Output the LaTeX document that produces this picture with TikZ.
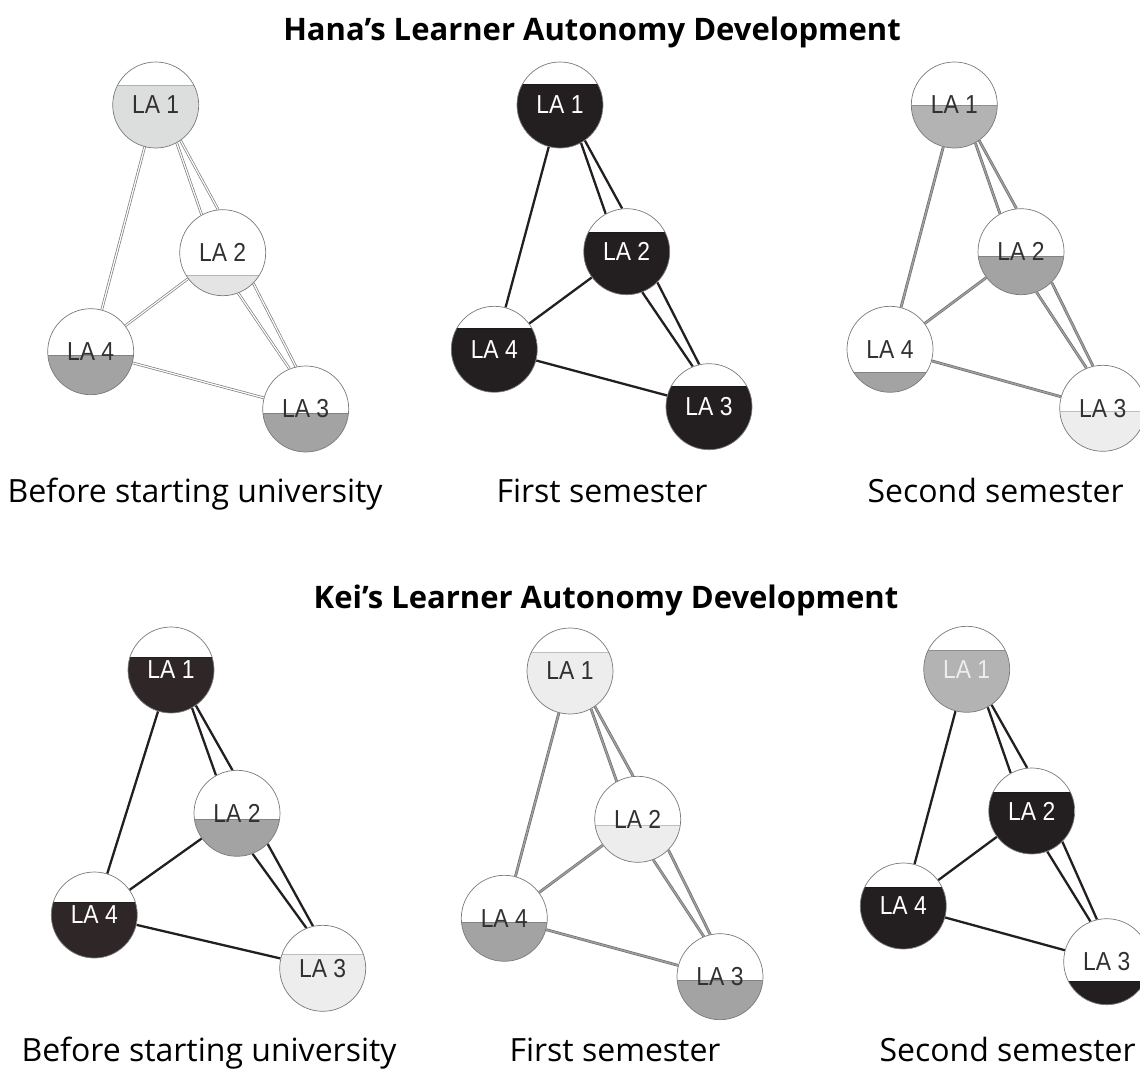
\documentclass[tikz,border=0pt]{standalone}
\usepackage{fontspec}
\setmainfont{Open Sans}
\newfontfamily\lafamily[FakeStretch=0.88]{Liberation Sans}
\usetikzlibrary{backgrounds}
\definecolor{circ}{HTML}{7A7A7A}
\definecolor{dk}{HTML}{231F20}
\definecolor{dkb}{HTML}{2F2727}
\definecolor{gA}{HTML}{A3A3A3}
\definecolor{gB}{HTML}{B3B3B3}
\definecolor{gC}{HTML}{DCDDDD}
\definecolor{gD}{HTML}{E4E4E4}
\definecolor{gE}{HTML}{EDEDED}
\definecolor{txt}{HTML}{333031}
\definecolor{hollowc}{HTML}{7C7C7C}
\definecolor{grayc}{HTML}{6E6E6E}
\definecolor{grayin}{HTML}{A0A0A0}
\tikzset{
  la/.style={circle, draw=circ, line width=0.7pt, minimum size=86pt, inner sep=0pt,
    fill=white, text=txt, font={\lafamily\fontsize{26}{26}\selectfont}},
  wt/.style={text=white},
  part/.style 2 args={path picture={
    \fill[#2] (path picture bounding box.south west) rectangle ([yshift=#1pt]path picture bounding box.east);
    \draw[#2!80!black, line width=0.5pt] ([yshift=#1pt]path picture bounding box.west) -- ([yshift=#1pt]path picture bounding box.east);}},
  hollow/.style={draw=hollowc, double=white, line width=0.7pt, double distance=1.2pt},
  darkl/.style={draw=dk, line width=2.3pt},
  grayl/.style={draw=grayc, double=grayin, line width=0.7pt, double distance=1.4pt},
  ttl/.style={font={\bfseries\fontsize{31}{36}\selectfont}, anchor=base, text=black},
  captxt/.style={font={\fontsize{32}{38}\selectfont}, anchor=base west, text=black},
}
\newcommand\laedges[2]{%
  \begin{scope}[on background layer]
    \draw[#2] (#1-1.-61) -- (#1-2.119);
    \draw[#2] (#1-1.-55) -- (#1-2.96);
    \draw[#2] (#1-2.-69) -- (#1-3.112);
    \draw[#2] (#1-2.-45) -- (#1-3.103);
    \draw[#2] (#1-1) -- (#1-4);
    \draw[#2] (#1-2) -- (#1-4);
    \draw[#2] (#1-4) -- (#1-3);
  \end{scope}}
\begin{document}
\begin{tikzpicture}[x=1pt, y=-1pt]
\useasboundingbox (0,0) rectangle (1140,1070);

\node[ttl] (t1) at (592,41) {Hana’s Learner Autonomy Development};
\node[ttl] (t2) at (606,608) {Kei’s Learner Autonomy Development};

% Panel 1
\node[la, part={20}{gC}] (p1-1) at (155.7,105) {LA 1};
\node[la, part={-23}{gD}] (p1-2) at (222.7,252.7) {LA 2};
\node[la, part={-4}{gA}] (p1-3) at (305.7,409) {LA 3};
\node[la, part={-4}{gA}] (p1-4) at (90.7,351.7) {LA 4};
\laedges{p1}{hollow}

% Panel 2
\node[la, wt, part={21}{dk}] (p2-1) at (560,105) {LA 1};
\node[la, wt, part={19}{dk}] (p2-2) at (626.7,251.7) {LA 2};
\node[la, wt, part={20}{dk}] (p2-3) at (709,406.7) {LA 3};
\node[la, wt, part={21}{dk}] (p2-4) at (494.3,349.3) {LA 4};
\laedges{p2}{darkl}

% Panel 3
\node[la, part={0}{gB}] (p3-1) at (954.3,105) {LA 1};
\node[la, part={-5}{gA}] (p3-2) at (1021,251.7) {LA 2};
\node[la, part={-3}{gE}] (p3-3) at (1102.7,408.3) {LA 3};
\node[la, part={-23}{gA}] (p3-4) at (890,349.3) {LA 4};
\laedges{p3}{grayl}

% Panel 4
\node[la, wt, part={13}{dkb}] (p4-1) at (171,670) {LA 1};
\node[la, part={-6}{gA}] (p4-2) at (237,813.3) {LA 2};
\node[la, part={14}{gE}] (p4-3) at (322.7,968.3) {LA 3};
\node[la, wt, part={13}{dkb}] (p4-4) at (94.3,915) {LA 4};
\laedges{p4}{darkl}

% Panel 5
\node[la, part={19}{gE}] (p5-1) at (570,671) {LA 1};
\node[la, part={-6}{gE}] (p5-2) at (637.7,819.3) {LA 2};
\node[la, part={-4}{gA}] (p5-3) at (720,976.7) {LA 3};
\node[la, part={-4}{gA}] (p5-4) at (504.3,918.3) {LA 4};
\laedges{p5}{grayl}

% Panel 6
\node[la, text=gE, part={19}{gB}] (p6-1) at (966.7,669.3) {LA 1};
\node[la, wt, part={19}{dk}] (p6-2) at (1031.7,811) {LA 2};
\node[la, part={-20}{dk}] (p6-3) at (1106.7,961.7) {LA 3};
\node[la, wt, part={19}{dk}] (p6-4) at (903.3,906) {LA 4};
\laedges{p6}{darkl}

% Captions
\node[captxt] (c1) at (4,502) {Before starting university};
\node[captxt] (c2) at (493,502) {First semester};
\node[captxt] (c3) at (864,502) {Second semester};
\node[captxt] (c4) at (18,1061) {Before starting university};
\node[captxt] (c5) at (506,1061) {First semester};
\node[captxt] (c6) at (876,1061) {Second semester};
\end{tikzpicture}
\end{document}
